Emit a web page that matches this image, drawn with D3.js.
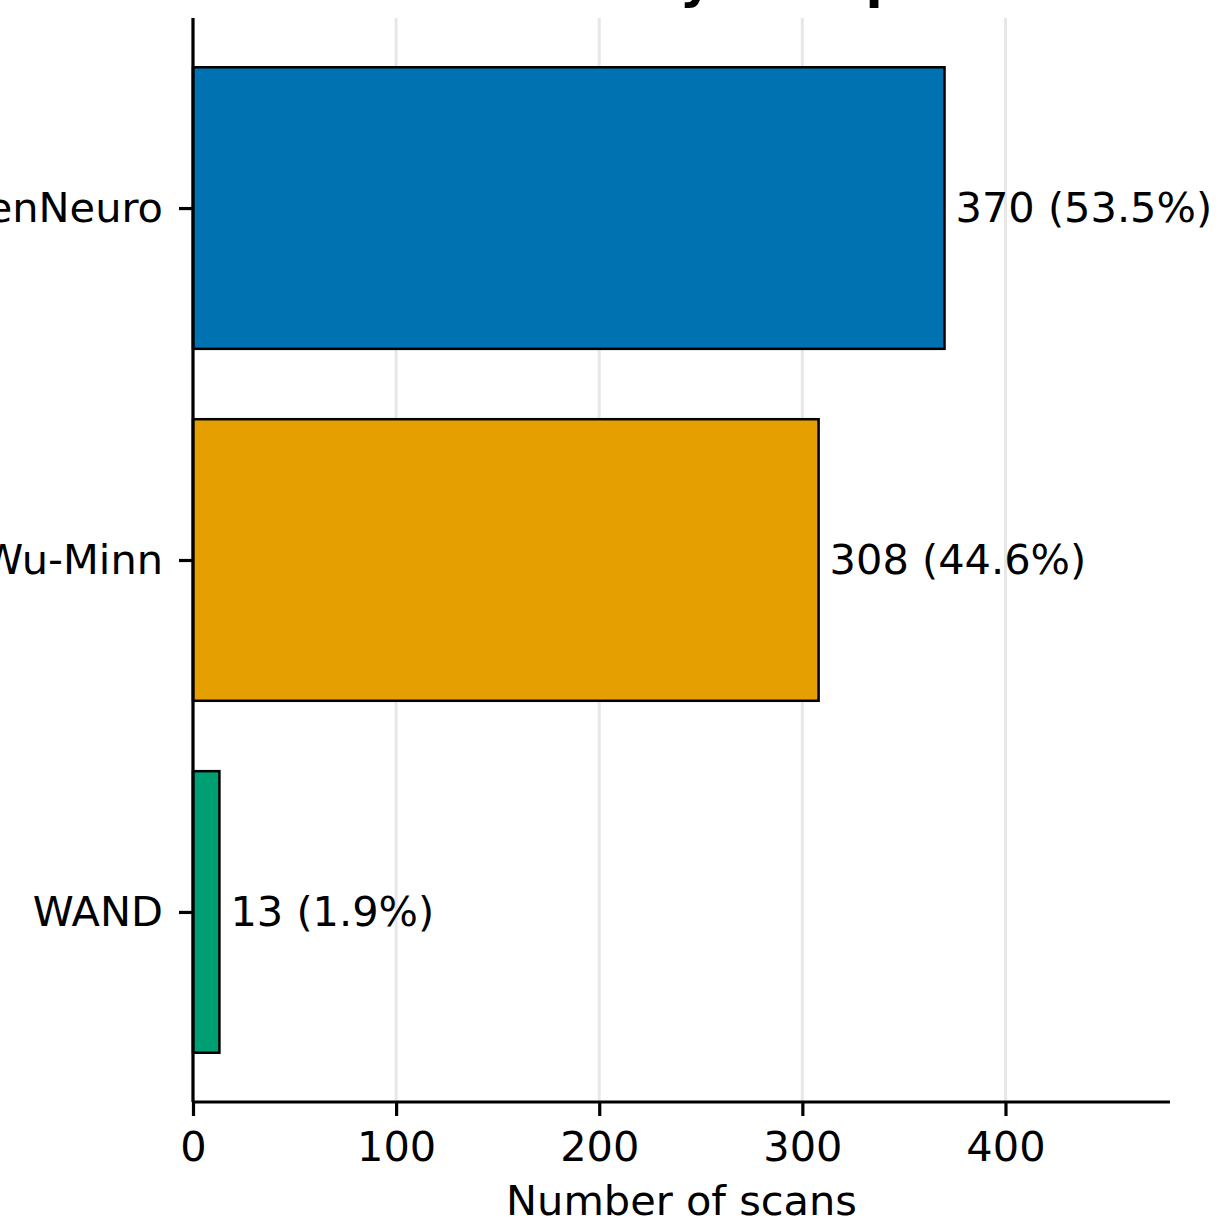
<!DOCTYPE html>
<html>
<head>
<meta charset="utf-8">
<script src="https://cdn.jsdelivr.net/npm/d3@7"></script>
<style>
  html, body { margin: 0; padding: 0; background: #fff; }
  svg { display: block; font-family: "DejaVu Sans", sans-serif; }
</style>
</head>
<body>
<div id="chart"></div>
<script>
// data
const groups = ["OpenNeuro", "Wu-Minn", "WAND"];
const scans = [370, 308, 13];
const barColors = ["#0072B2", "#E69F00", "#009E73"];
const xTicks = [0, 100, 200, 300, 400];
const titleText = "Scans by Group";
const xLabel = "Number of scans";

const W = 1221, H = 1221;
const plot = { left: 193, right: 1170, top: 18, bottom: 1102 };

const svg = d3.select("#chart").append("svg")
    .attr("width", W)
    .attr("height", H);

const total = d3.sum(scans);

const x = d3.scaleLinear()
    .domain([0, d3.max(scans) * 1.3])
    .range([plot.left, plot.right]);

// categories on a numeric axis, top to bottom, like barh with inverted y
const y = d3.scaleLinear()
    .domain([-0.54, groups.length - 1 + 0.54])
    .range([plot.top, plot.bottom]);
const barH = y(0.8) - y(0);

//grid lines
svg.append("g")
    .selectAll("line")
    .data(xTicks)
    .join("line")
    .attr("x1", d => x(d))
    .attr("x2", d => x(d))
    .attr("y1", plot.top)
    .attr("y2", plot.bottom)
    .attr("stroke", "#b0b0b0")
    .attr("stroke-opacity", 0.3)
    .attr("stroke-width", 3);

//bars
svg.append("g")
    .selectAll("rect")
    .data(scans)
    .join("rect")
    .attr("x", x(0))
    .attr("y", (d, i) => y(i) - barH / 2)
    .attr("width", d => x(d) - x(0))
    .attr("height", barH)
    .attr("fill", (d, i) => barColors[i])
    .attr("stroke", "#000")
    .attr("stroke-width", 2.5);

//value labels
svg.append("g")
    .selectAll("text")
    .data(scans)
    .join("text")
    .attr("x", d => x(d) + 11)
    .attr("y", (d, i) => y(i))
    .attr("dy", "0.33em")
    .attr("font-size", 41.5)
    .attr("fill", "#000")
    .text(d => d + " (" + (d / total * 100).toFixed(1) + "%)");

//x axis
const xAxis = svg.append("g")
    .attr("transform", "translate(0," + plot.bottom + ")")
    .call(d3.axisBottom(x).tickValues(xTicks).tickSize(14).tickPadding(16).tickSizeOuter(0));
xAxis.select(".domain").attr("stroke", "#000").attr("stroke-width", 3.2)
    .attr("d", "M" + plot.left + ",0H" + plot.right);
xAxis.selectAll(".tick line").attr("stroke", "#000").attr("stroke-width", 3.2);
xAxis.selectAll(".tick text")
    .attr("font-size", 41.5)
    .attr("font-family", "DejaVu Sans, sans-serif")
    .attr("fill", "#000");

//y axis
const yAxis = svg.append("g")
    .attr("transform", "translate(" + plot.left + ",0)")
    .call(d3.axisLeft(y).tickValues(d3.range(groups.length))
        .tickFormat(i => groups[i]).tickSize(14).tickPadding(16).tickSizeOuter(0));
yAxis.select(".domain").attr("stroke", "#000").attr("stroke-width", 3.2)
    .attr("d", "M0," + plot.top + "V" + plot.bottom);
yAxis.selectAll(".tick line").attr("stroke", "#000").attr("stroke-width", 3.2);
yAxis.selectAll(".tick text")
    .attr("font-size", 41.5)
    .attr("font-family", "DejaVu Sans, sans-serif")
    .attr("fill", "#000");

//axis label
svg.append("text")
    .attr("x", (plot.left + plot.right) / 2)
    .attr("y", 1215)
    .attr("text-anchor", "middle")
    .attr("font-size", 41.5)
    .text(xLabel);

//title, mostly above the picture edge
svg.append("text")
    .attr("x", (plot.left + plot.right) / 2)
    .attr("y", -2)
    .attr("text-anchor", "middle")
    .attr("font-size", 50)
    .attr("font-weight", "bold")
    .text(titleText);
</script>
</body>
</html>
